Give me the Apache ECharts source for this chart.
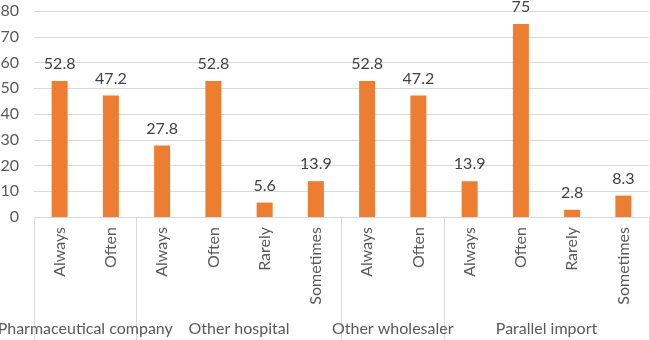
<!DOCTYPE html>
<html>
<head>
<meta charset="utf-8">
<script src="https://cdn.jsdelivr.net/npm/echarts@6/dist/echarts.min.js"></script>
<style>
  html, body { margin: 0; padding: 0; background: #fff; }
  #chart { width: 650px; height: 340px; }
</style>
</head>
<body>
<div id="chart"></div>
<script>
// answers per source, in plot order
var categories = ['Always', 'Often', 'Always', 'Often', 'Rarely', 'Sometimes', 'Always', 'Often', 'Always', 'Often', 'Rarely', 'Sometimes'];
var values = [52.8, 47.2, 27.8, 52.8, 5.6, 13.9, 52.8, 47.2, 13.9, 75, 2.8, 8.3];
var groups = ['Pharmaceutical company', 'Other hospital', 'Other wholesaler', 'Parallel import'];
var groupSizes = [2, 4, 2, 4];

// group boundaries and centres on a 0..12 scale
var bounds = [0], centres = [];
groupSizes.forEach(function (n, i) {
  var start = bounds[i];
  bounds.push(start + n);
  centres.push(start + n / 2);
});

var fontFam = 'Lato';
var chart = echarts.init(document.getElementById('chart'));
chart.setOption({
  animation: false,
  grid: { left: 34, right: 1, top: 11, bottom: 123, outerBoundsMode: 'none', containLabel: false },
  xAxis: [
    {
      type: 'category',
      data: categories,
      axisTick: { show: false },
      axisLine: { lineStyle: { color: '#d9d9d9' } },
      axisLabel: {
        rotate: 90, color: '#595959', fontSize: 16, fontFamily: fontFam,
        margin: 10, interval: 0
      }
    },
    {
      type: 'value',
      min: 0,
      max: 12,
      position: 'bottom',
      axisLine: { show: false },
      splitLine: { show: false },
      axisTick: {
        show: true,
        customValues: bounds,
        length: 123,
        lineStyle: { color: '#d9d9d9' }
      },
      axisLabel: {
        customValues: centres,
        color: '#595959', fontSize: 16, fontFamily: fontFam,
        margin: 104,
        formatter: function (v) {
          return groups[centres.indexOf(v)] || '';
        }
      }
    }
  ],
  yAxis: {
    type: 'value',
    min: 0,
    max: 80,
    interval: 10,
    axisLine: { show: false },
    axisTick: { show: false },
    splitLine: { lineStyle: { color: '#d9d9d9' } },
    axisLabel: { color: '#595959', fontSize: 16, fontFamily: fontFam, margin: 15 }
  },
  series: [{
    type: 'bar',
    data: values,
    barWidth: 16,
    itemStyle: { color: '#ED7D31' },
    label: {
      show: true,
      position: 'top',
      distance: 9,
      color: '#404040',
      fontSize: 16,
      fontFamily: fontFam
    }
  }]
});
</script>
</body>
</html>
